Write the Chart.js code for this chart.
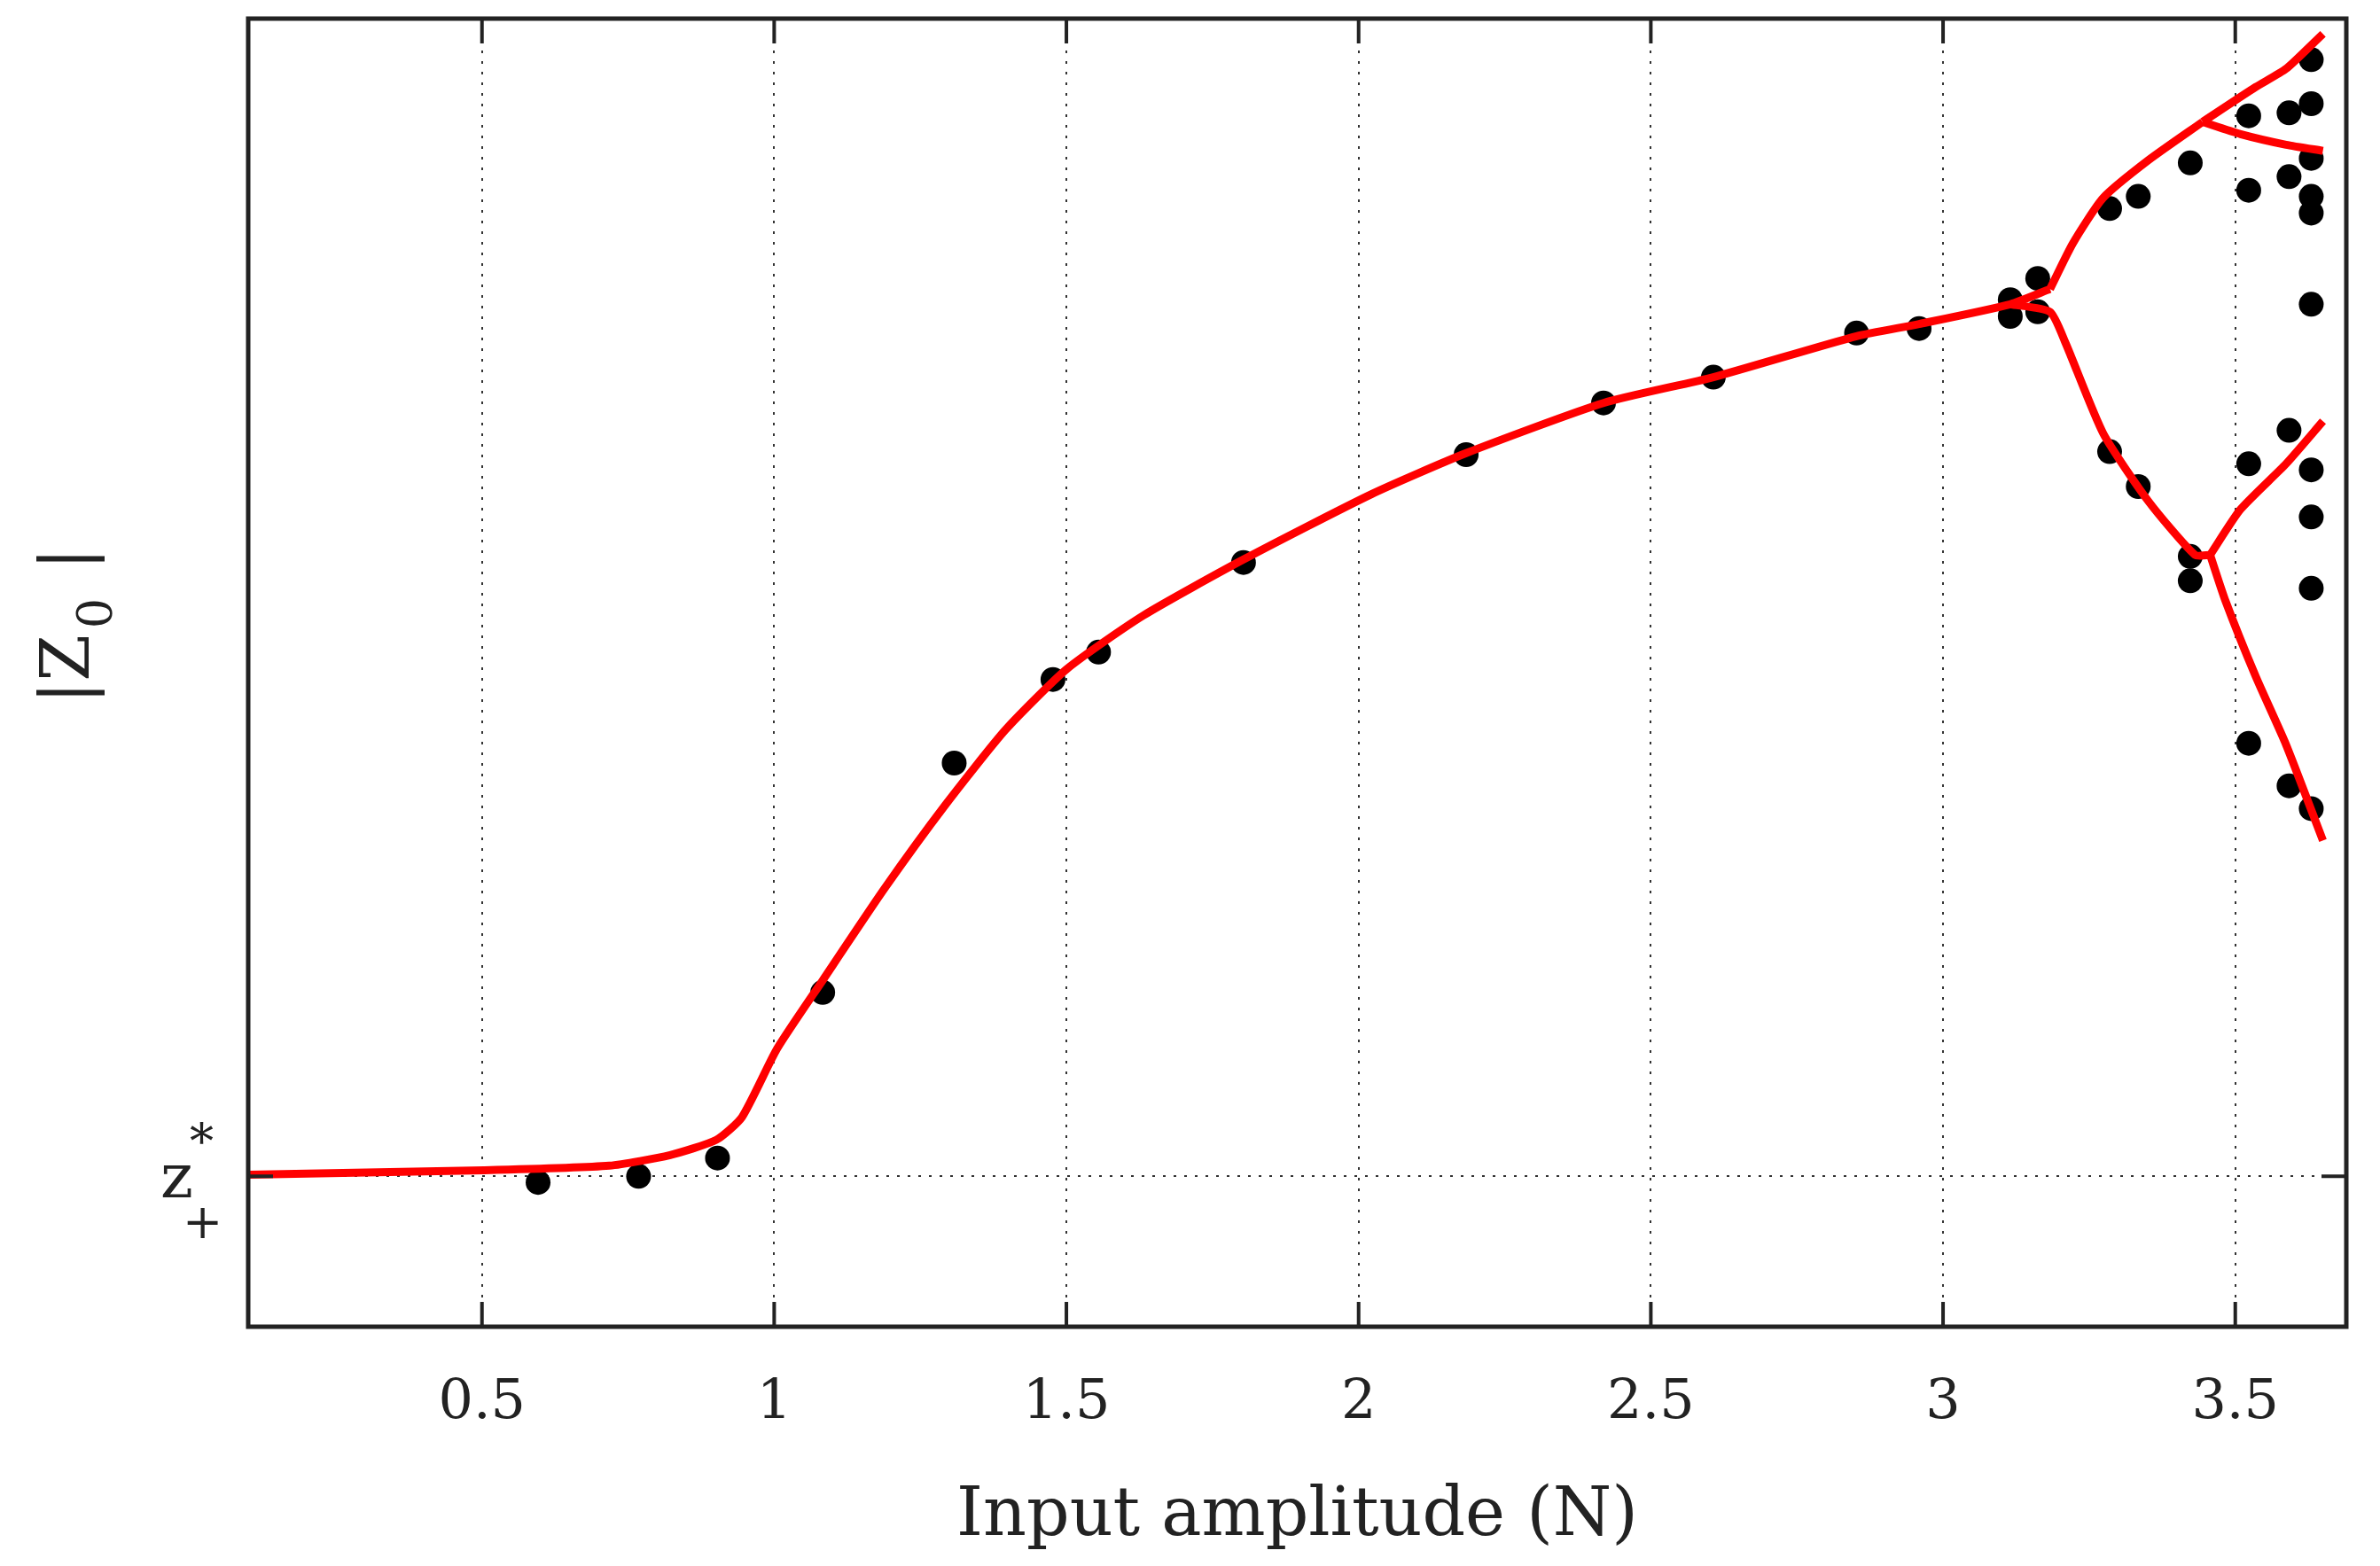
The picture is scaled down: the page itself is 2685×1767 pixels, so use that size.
<!DOCTYPE html>
<html><head><meta charset="utf-8">
<script src="https://cdn.jsdelivr.net/npm/chart.js@4"></script>
<style>html,body{margin:0;padding:0;background:#fff}#wrap{width:2685px;height:1767px}</style>
</head><body><div id="wrap"><canvas id="c" width="2685" height="1767"></canvas></div>
<script>
const xTicks=[0.5,1,1.5,2,2.5,3,3.5];
const zStar=99;
const ptsX=[0.596,0.768,0.903,1.083,1.308,1.477,1.555,1.803,2.184,2.419,2.607,2.852,2.959,3.115,3.115,3.162,3.162,3.285,3.334,3.423,3.523,3.523,3.592,3.592,3.630,3.630,3.630,3.630,3.630,3.630,3.285,3.334,3.423,3.423,3.523,3.523,3.592,3.592,3.630,3.630,3.630,3.630];
const ptsY=[95,99,111,220,371,426,444,503,574,608,625,654,657,676,665,690,668,736,744,766,797,748,799,757,834,805,769,744,733,673,576,553,507,491,568,384,590,356,564,533,486,341];
const mainX=[0.1,0.504,0.718,0.822,0.901,0.945,1.005,1.083,1.188,1.292,1.396,1.501,1.631,1.803,2.022,2.184,2.419,2.607,2.852,2.959,3.115,3.183];
const mainY=[100,103,106,113,123,138,183,228,288,343,393,433,468,505,548,575,608,625,652,660,673,683];
const upX=[3.183,3.222,3.274,3.352,3.444], upY=[683,713,743,768,793];
const uuX=[3.444,3.535,3.587,3.650], uuY=[793,816,828,851];
const ulX=[3.444,3.509,3.587,3.650], ulY=[793,785,778,774];
const loX=[3.115,3.183,3.209,3.274,3.352,3.431,3.457], loY=[673,668,648,588,543,508,508];
const luX=[3.457,3.509,3.587,3.650], luY=[508,538,568,596];
const ldX=[3.457,3.483,3.535,3.587,3.650], ldY=[508,478,428,383,320];
const zip=(a,b)=>a.map((v,i)=>({x:v,y:b[i]}));
const line=(a,b)=>({type:'line',data:zip(a,b),borderColor:'#ff0000',borderWidth:9,pointRadius:0,fill:false,tension:0.2});
const FONT='"DejaVu Serif", "Liberation Serif", serif';
const labels={id:'labels',afterDraw(ch){
 const c=ch.ctx, y=ch.scales.y; c.save(); c.fillStyle='#222';
 const yz=y.getPixelForValue(zStar);
 c.font='70px '+FONT; c.textAlign='right'; c.textBaseline='alphabetic';
 c.fillText('z',218,yz+24);
 c.font='54px '+FONT; c.textAlign='left'; c.fillText('+',206,yz+70); c.fillText('*',214,yz-20);
 c.translate(100,706); c.rotate(-Math.PI/2); c.textAlign='center';
 c.font='76px '+FONT; c.fillText('|Z   |',0,0);
 c.font='54px '+FONT; c.fillText('0',14,26);
 c.restore(); c.save(); c.fillStyle='#222';
 c.font='76px '+FONT; c.textAlign='center'; c.textBaseline='middle';
 c.fillText('Input amplitude (N)',(ch.chartArea.left+ch.chartArea.right)/2,1712);
 c.restore();
}};
new Chart(document.getElementById('c'),{
 type:'scatter',
 data:{datasets:[line(mainX,mainY),line(upX,upY),line(uuX,uuY),line(ulX,ulY),line(loX,loY),line(luX,luY),line(ldX,ldY),
  {type:'scatter',data:zip(ptsX,ptsY),backgroundColor:'#000',borderWidth:0,pointRadius:14}]},
 options:{responsive:false,animation:false,
  layout:{padding:{top:21,right:38,bottom:0,left:0}},
  plugins:{legend:{display:false},tooltip:{enabled:false}},
  scales:{
   x:{type:'linear',min:0.1,max:3.69,afterBuildTicks(s){s.ticks=xTicks.map(v=>({value:v}));},
    afterFit(s){s.height=270;},
    border:{display:false,dash:[3,9]},
    grid:{color:'#333',lineWidth:2,drawTicks:false},
    ticks:{font:{family:FONT,size:62},color:'#222',padding:50,maxRotation:0,callback:v=>String(v)}},
   y:{type:'linear',min:0,max:861,afterBuildTicks(s){s.ticks=[{value:zStar}];},
    afterFit(s){s.width=280;},
    border:{display:false,dash:[3,9]},
    grid:{color:'#333',lineWidth:2,drawTicks:false},
    ticks:{callback:()=>'',padding:0}}
  }},
 plugins:[labels,{id:'frame',afterDraw(ch){const c=ch.ctx,a=ch.chartArea;c.save();c.strokeStyle='#222';c.lineWidth=5;c.strokeRect(a.left,a.top,a.right-a.left,a.bottom-a.top);
   c.lineWidth=4;const x=ch.scales.x;xTicks.forEach(v=>{const p=x.getPixelForValue(v);c.beginPath();c.moveTo(p,a.bottom);c.lineTo(p,a.bottom-28);c.moveTo(p,a.top);c.lineTo(p,a.top+28);c.stroke();});
   const yz=ch.scales.y.getPixelForValue(zStar);c.beginPath();c.moveTo(a.left,yz);c.lineTo(a.left+28,yz);c.moveTo(a.right,yz);c.lineTo(a.right-28,yz);c.stroke();c.restore();}}]
});
</script></body></html>
